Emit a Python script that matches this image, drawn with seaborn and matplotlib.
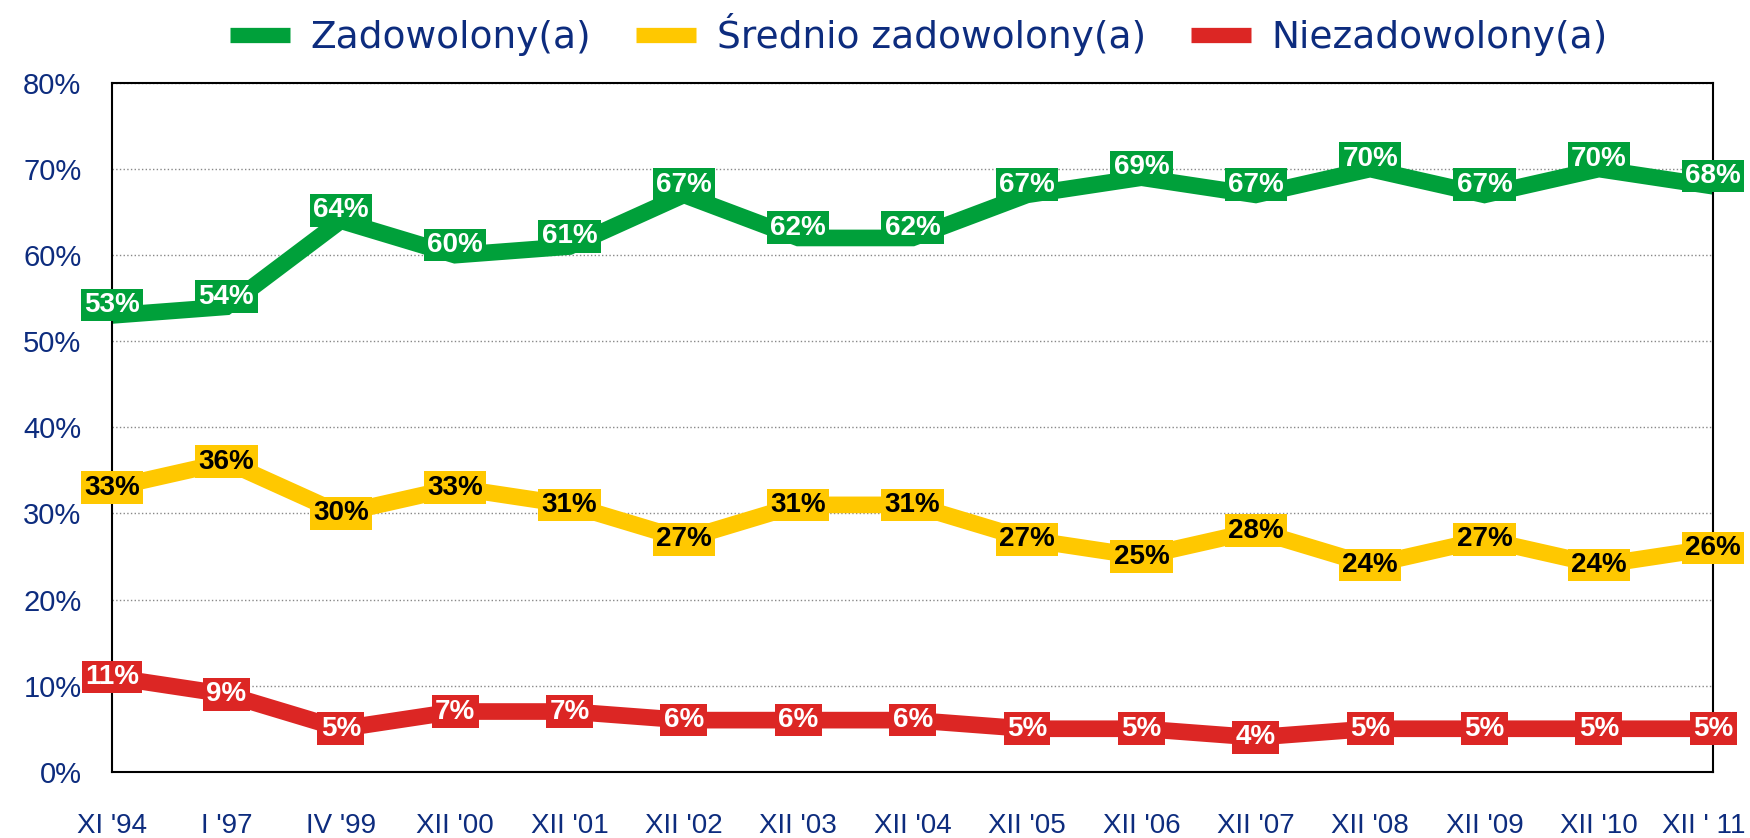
import numpy as np
import pandas as pd
import matplotlib
matplotlib.use("Agg")
import matplotlib.pyplot as plt
import matplotlib.transforms as mtransforms
import seaborn as sns

# Dane z wykresu
okresy = ["XI '94", "I '97", "IV '99", "XII '00", "XII '01", "XII '02", "XII '03",
          "XII '04", "XII '05", "XII '06", "XII '07", "XII '08", "XII '09",
          "XII '10", "XII ' 11"]
zadowolony = [53, 54, 64, 60, 61, 67, 62, 62, 67, 69, 67, 70, 67, 70, 68]
srednio = [33, 36, 30, 33, 31, 27, 31, 31, 27, 25, 28, 24, 27, 24, 26]
niezadowolony = [11, 9, 5, 7, 7, 6, 6, 6, 5, 5, 4, 5, 5, 5, 5]

serie = ["Zadowolony(a)", "Średnio zadowolony(a)", "Niezadowolony(a)"]
kolory = ["#00A03A", "#FFC800", "#DC2624"]
kolor_tekstu = ["white", "black", "white"]
przesuniecie = [1.2, 0.0, 0.0]  # lekkie przesunięcie etykiet w pionie
granat = "#0D2C7E"

sns.set_style("white")
plt.rcParams["font.family"] = ["Liberation Sans", "DejaVu Sans"]

df = pd.DataFrame({
    "x": list(range(len(okresy))) * 3,
    "wartosc": zadowolony + srednio + niezadowolony,
    "seria": [s for s in serie for _ in okresy],
})

fig = plt.figure(figsize=(17.5, 8.38), dpi=100)
ax = fig.add_axes([0.064, 0.079, 0.915, 0.822])

sns.lineplot(data=df, x="x", y="wartosc", hue="seria", palette=kolory,
             hue_order=serie, linewidth=12, ax=ax, legend=False,
             solid_joinstyle="miter")

# Etykiety danych
for nazwa, kol, tk, dy in zip(serie, kolory, kolor_tekstu, przesuniecie):
    sub = df[df["seria"] == nazwa]
    for xv, yv in zip(sub["x"], sub["wartosc"]):
        ax.text(xv, yv + dy, f"{yv}%", ha="center", va="center", fontsize=20,
                fontweight="bold", color=tk, zorder=5, clip_on=False,
                bbox=dict(boxstyle="square,pad=0.12", facecolor=kol,
                          edgecolor="none"))

ax.set_xlim(0, len(okresy) - 1)
ax.set_ylim(0, 80)
ax.set_xticks(range(len(okresy)))
ax.set_xticklabels(okresy)
ax.set_yticks(range(0, 81, 10))
ax.set_yticklabels([f"{v}%" for v in range(0, 81, 10)])
ax.set_xlabel("")
ax.set_ylabel("")

ax.grid(axis="y", color="#888888", linestyle=":", linewidth=1)
ax.set_axisbelow(True)
for sp in ax.spines.values():
    sp.set_color("black")
    sp.set_linewidth(1.5)

ax.tick_params(axis="x", direction="out", length=22, width=1.2, pad=8,
               labelsize=20, labelcolor=granat, color="black")
ax.tick_params(axis="y", direction="out", length=14, width=1.2, pad=8,
               labelsize=21, labelcolor=granat, color="black")
for lab in ax.get_xticklabels() + ax.get_yticklabels():
    lab.set_family(["Liberation Sans Narrow", "Liberation Sans"])

# ostatnią etykietę lekko w lewo, żeby zmieściła się w kadrze
ostatnia = ax.get_xticklabels()[-1]
ostatnia.set_transform(ostatnia.get_transform() +
                       mtransforms.ScaledTranslation(-10 / 100, 0, fig.dpi_scale_trans))

# Legenda
uchwyty = [plt.Line2D([0], [0], color=k, linewidth=11, solid_capstyle="butt")
           for k in kolory]
leg = fig.legend(uchwyty, serie, loc="upper center", ncol=3,
                 bbox_to_anchor=(0.525, 1.025), frameon=False, handlelength=1.6,
                 columnspacing=1.2, handletextpad=0.55,
                 prop={"family": "DejaVu Sans", "size": 27})
for t in leg.get_texts():
    t.set_color(granat)

fig.savefig("out.png", dpi=100)
